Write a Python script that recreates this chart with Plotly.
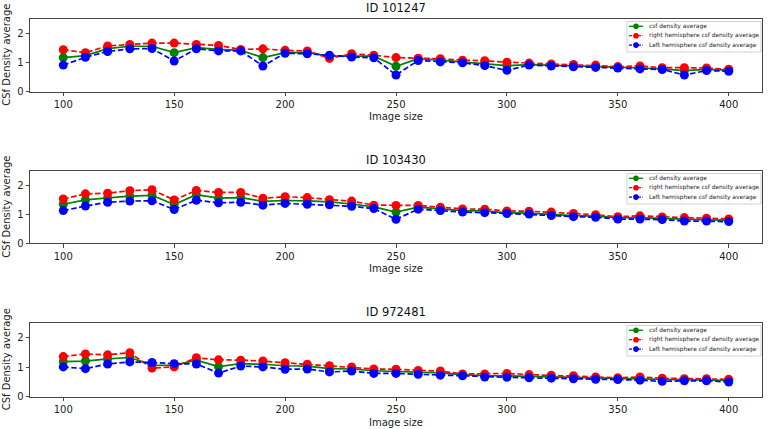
import plotly.graph_objects as go

image_size = list(range(100, 401, 10))

ids = ["ID 101247", "ID 103430", "ID 972481"]

csf_1 = [1.17, 1.24, 1.48, 1.56, 1.56, 1.34, 1.51, 1.45, 1.42, 1.17, 1.34, 1.35, 1.22, 1.22, 1.22, 0.87,
         1.13, 1.08, 1.02, 0.97, 0.89, 0.93, 0.91, 0.88, 0.88, 0.84, 0.81, 0.78, 0.72, 0.76, 0.74]
right_1 = [1.44, 1.34, 1.57, 1.62, 1.67, 1.67, 1.62, 1.59, 1.45, 1.47, 1.42, 1.40, 1.14, 1.30, 1.25, 1.17,
           1.15, 1.13, 1.08, 1.06, 1.01, 0.98, 0.95, 0.93, 0.91, 0.86, 0.88, 0.82, 0.82, 0.81, 0.77]
left_1 = [0.91, 1.18, 1.38, 1.47, 1.48, 1.05, 1.47, 1.40, 1.40, 0.88, 1.32, 1.30, 1.25, 1.19, 1.16, 0.57,
          1.07, 1.02, 0.99, 0.89, 0.73, 0.91, 0.88, 0.85, 0.83, 0.81, 0.78, 0.76, 0.57, 0.72, 0.70]

csf_2 = [1.35, 1.50, 1.57, 1.63, 1.66, 1.34, 1.68, 1.56, 1.58, 1.45, 1.48, 1.47, 1.43, 1.36, 1.26, 1.08,
         1.25, 1.18, 1.13, 1.12, 1.05, 1.04, 0.99, 0.96, 0.94, 0.89, 0.89, 0.86, 0.83, 0.81, 0.80]
right_2 = [1.53, 1.71, 1.73, 1.82, 1.85, 1.50, 1.83, 1.76, 1.76, 1.56, 1.61, 1.58, 1.51, 1.46, 1.32, 1.31,
           1.31, 1.25, 1.19, 1.18, 1.12, 1.11, 1.08, 1.03, 0.99, 0.92, 0.95, 0.91, 0.89, 0.87, 0.84]
left_2 = [1.13, 1.29, 1.42, 1.46, 1.47, 1.17, 1.49, 1.40, 1.42, 1.32, 1.38, 1.35, 1.33, 1.28, 1.20, 0.83,
          1.18, 1.13, 1.08, 1.06, 1.03, 1.01, 0.96, 0.92, 0.90, 0.84, 0.84, 0.82, 0.77, 0.77, 0.75]

csf_3 = [1.19, 1.21, 1.28, 1.33, 1.07, 1.06, 1.24, 1.02, 1.12, 1.10, 1.05, 1.04, 0.95, 0.94, 0.88, 0.86,
         0.82, 0.81, 0.75, 0.71, 0.71, 0.69, 0.68, 0.66, 0.63, 0.62, 0.60, 0.59, 0.58, 0.56, 0.55]
right_3 = [1.36, 1.45, 1.42, 1.49, 0.97, 1.01, 1.32, 1.25, 1.24, 1.21, 1.15, 1.10, 1.05, 1.01, 0.94, 0.93,
           0.89, 0.87, 0.77, 0.77, 0.79, 0.75, 0.73, 0.71, 0.67, 0.64, 0.67, 0.63, 0.61, 0.61, 0.59]
left_3 = [1.01, 0.95, 1.11, 1.18, 1.16, 1.12, 1.11, 0.80, 1.04, 1.01, 0.93, 0.94, 0.84, 0.87, 0.79, 0.79,
          0.76, 0.73, 0.71, 0.67, 0.66, 0.64, 0.63, 0.61, 0.59, 0.58, 0.56, 0.52, 0.54, 0.54, 0.50]

series_names = ["csf density average", "right hemisphere csf density average",
                "Left hemisphere csf density average"]
x_ticks = [100, 150, 200, 250, 300, 350, 400]
y_ticks = [0, 1, 2]
x_title = "Image size"
y_title = "CSf Density average"

data_sets = [(csf_1, right_1, left_1), (csf_2, right_2, left_2), (csf_3, right_3, left_3)]

W, H = 768, 429
ML, MR, MT, MB = 30, 6, 0, 0
PW, PH = W - ML - MR, H - MT - MB
# (top px, bottom px) of each plot area
boxes = [(19, 91.5), (171, 243.3), (323, 396.7)]


def fy(px):
    return (H - MB - px) / PH


def fx(px):
    return (px - ML) / PW


colors = ["green", "red", "blue"]
dashes = ["solid", "5.5px,2.6px", "5.5px,2.6px"]
TXT = "#222"

fig = go.Figure()
layout = dict(
    width=W, height=H,
    margin=dict(l=ML, r=MR, t=MT, b=MB),
    paper_bgcolor="white", plot_bgcolor="white",
    font=dict(family="DejaVu Sans", size=9, color=TXT),
    showlegend=False,
)
annotations = []
shapes = []
for i, (series, title) in enumerate(zip(data_sets, ids)):
    sfx = "" if i == 0 else str(i + 1)
    for vals, name, c, d in zip(series, series_names, colors, dashes):
        fig.add_trace(go.Scatter(
            x=image_size, y=vals, name=name, mode="lines+markers",
            line=dict(color=c, width=1.7, dash=d),
            marker=dict(color=c, size=9),
            xaxis="x" + sfx, yaxis="y" + sfx,
        ))
    top, bot = boxes[i]
    axis_common = dict(
        showline=True, linecolor="#444", linewidth=1, mirror=True,
        ticks="outside", ticklen=3.5, tickcolor="#444", showgrid=False, zeroline=False,
        tickfont=dict(size=10, color=TXT), automargin=False,
    )
    layout["xaxis" + sfx] = dict(
        domain=[0, 1], range=[85, 415], tickvals=x_ticks,
        anchor="y" + sfx, **axis_common,
    )
    layout["yaxis" + sfx] = dict(
        domain=[fy(bot), fy(top)], range=[0, 2.5], tickvals=y_ticks,
        anchor="x" + sfx, **axis_common,
    )
    # subplot title
    annotations.append(dict(
        text=title, x=0.5, y=fy(top - 11), xref="paper", yref="paper",
        xanchor="center", yanchor="middle", showarrow=False,
        font=dict(size=11.5, color="#111"),
    ))
    # axis titles
    annotations.append(dict(
        text=x_title, x=0.5, y=fy(bot + 25.5), xref="paper", yref="paper",
        xanchor="center", yanchor="middle", showarrow=False,
        font=dict(size=10, color=TXT),
    ))
    annotations.append(dict(
        text=y_title, x=fx(6.5), y=fy((top + bot) / 2), xref="paper", yref="paper",
        xanchor="center", yanchor="middle", showarrow=False, textangle=-90,
        font=dict(size=10, color=TXT),
    ))
    # legend box
    lx0, lx1 = 627, 761
    ly0, ly1 = top + 2.5, top + 33
    shapes.append(dict(
        type="rect", xref="paper", yref="paper",
        x0=fx(lx0), x1=fx(lx1), y0=fy(ly1), y1=fy(ly0),
        line=dict(color="#d0d0d0", width=1), fillcolor="rgba(255,255,255,0.85)", layer="above",
    ))
    for k, (name, c, d) in enumerate(zip(series_names, colors, dashes)):
        yc = top + 7.3 + 9.4 * k
        shapes.append(dict(
            type="line", xref="paper", yref="paper",
            x0=fx(629), x1=fx(643), y0=fy(yc), y1=fy(yc),
            line=dict(color=c, width=1.3, dash="3px,1.5px" if d != "solid" else "solid"), layer="above",
        ))
        r = 2.8
        shapes.append(dict(
            type="circle", xref="paper", yref="paper",
            x0=fx(636 - r), x1=fx(636 + r), y0=fy(yc + r), y1=fy(yc - r),
            line=dict(color=c, width=0), fillcolor=c, layer="above",
        ))
        annotations.append(dict(
            text=name, x=fx(646.5), y=fy(yc), xref="paper", yref="paper",
            xanchor="left", yanchor="middle", showarrow=False,
            font=dict(size=5.9, color=TXT),
        ))
layout["annotations"] = annotations
layout["shapes"] = shapes
fig.update_layout(**layout)
fig.write_html(
    "out.html",
    config={"displayModeBar": False},
    post_script="document.body.style.margin='0';document.body.style.overflow='hidden';",
)
